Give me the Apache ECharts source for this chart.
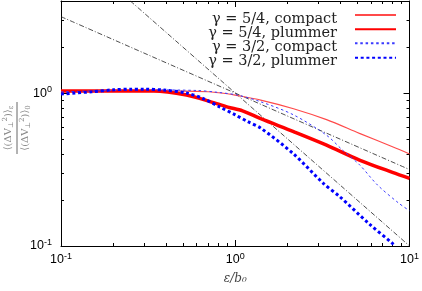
<!DOCTYPE html>
<html><head><meta charset="utf-8">
<script src="https://cdn.jsdelivr.net/npm/echarts@6/dist/echarts.min.js"></script>
<style>html,body{margin:0;padding:0;background:#fff}#c{width:422px;height:291px}</style>
</head><body><div id="c"></div>
<script>
// ---- data ----
const seriesNames = ['γ = 5/4, compact', 'γ = 5/4, plummer', 'γ = 3/2, compact', 'γ = 3/2, plummer'];
const redCompactX = [0.1, 0.2, 0.3, 0.5, 0.7, 0.9, 1.0, 1.4, 2.16, 3.34, 5.16, 7.98, 10];
const redCompactY = [1.03, 1.03, 1.03, 1.03, 1.02, 0.99, 0.97, 0.90, 0.79, 0.67, 0.545, 0.446, 0.40];
const redPlummerX = [0.1, 0.2, 0.34, 0.525, 0.717, 0.906, 1.1, 1.4, 2.16, 3.34, 5.16, 7.98, 10];
const redPlummerY = [1.03, 1.03, 1.03, 0.97, 0.88, 0.81, 0.766, 0.68, 0.56, 0.457, 0.365, 0.303, 0.277];
const blueCompactX = [0.1, 0.2, 0.3, 0.6, 0.8, 1.03, 1.4, 2.16, 3.34, 4.16, 5.16, 6.56, 8.7, 10];
const blueCompactY = [1.02, 1.04, 1.05, 1.04, 1.01, 0.97, 0.877, 0.72, 0.53, 0.42, 0.34, 0.25, 0.19, 0.17];
const bluePlummerX = [0.1, 0.15, 0.2, 0.25, 0.3, 0.39, 0.525, 0.655, 0.817, 1.0, 1.18, 1.4, 2.16, 3.2, 3.98, 5.85, 7.98, 8.3];
const bluePlummerY = [0.985, 1.02, 1.05, 1.06, 1.06, 1.046, 1.0, 0.92, 0.81, 0.72, 0.65, 0.59, 0.40, 0.257, 0.21, 0.14, 0.104, 0.1];
const guideHalfX = [0.1, 10];
const guideHalfY = [3.16, 0.316];
const guideOneX = [0.25, 10];
const guideOneY = [4, 0.1];
const xRange = [0.1, 10];
const yRange = [0.1, 4];
const xMajorTicks = [0.1, 1, 10];
const xMinorTicks = [0.2, 0.3, 0.4, 0.5, 0.6, 0.7, 0.8, 0.9, 2, 3, 4, 5, 6, 7, 8, 9];
const yMajorTicks = [0.1, 1];
const yMinorTicks = [0.2, 0.3, 0.4, 0.5, 0.6, 0.7, 0.8, 0.9, 2, 3];

const zip = (xs, ys) => xs.map((x, i) => [x, ys[i]]);
const supLabel = v => {
  const l = Math.log10(v), e = Math.round(l);
  if (Math.abs(l - e) > 1e-6) return '';
  return '{b|10}{s|' + e + '}';
};
const richLab = {
  b: {fontFamily: 'Liberation Sans', fontSize: 12.5, color: '#000'},
  s: {fontFamily: 'Liberation Sans', fontSize: 9, color: '#000', padding: [0, 0, 7, 0]}
};

function mkAxis(dim, range, pos, withLabel) {
  return {
    type: 'log', min: range[0], max: range[1], position: pos, gridIndex: 0,
    splitLine: {show: false},
    axisLine: {show: true, onZero: false, lineStyle: {color: '#000', width: 1}},
    axisTick: {show: false}, minorTick: {show: false},
    axisLabel: withLabel ? {show: true, formatter: supLabel, rich: richLab, margin: dim === 'x' ? 6 : 9} : {show: false}
  };
}
// tick-only helper axes on the log10 scale of the same range
function tickAxis(range, pos, ticks, len) {
  return {
    type: 'value', min: Math.log10(range[0]), max: Math.log10(range[1]), position: pos, gridIndex: 0,
    splitLine: {show: false},
    axisLine: {show: false, onZero: false},
    axisTick: {show: true, inside: true, length: len, customValues: ticks.map(Math.log10), lineStyle: {color: '#000', width: 1}},
    axisLabel: {show: false}
  };
}

const xBottom = mkAxis('x', xRange, 'bottom', true);
xBottom.name = 'ε/b₀';
xBottom.nameLocation = 'middle';
xBottom.nameGap = 27;
xBottom.nameTextStyle = {fontFamily: 'DejaVu Serif', fontStyle: 'italic', fontSize: 12, color: '#444'};
const xAxes = [xBottom, mkAxis('x', xRange, 'top', false),
  tickAxis(xRange, 'bottom', xMajorTicks, 6), tickAxis(xRange, 'bottom', xMinorTicks, 3),
  tickAxis(xRange, 'top', xMajorTicks, 6), tickAxis(xRange, 'top', xMinorTicks, 3)];
const yAxes = [mkAxis('y', yRange, 'left', true), mkAxis('y', yRange, 'right', false),
  tickAxis(yRange, 'left', yMajorTicks, 6), tickAxis(yRange, 'left', yMinorTicks, 3),
  tickAxis(yRange, 'right', yMajorTicks, 6), tickAxis(yRange, 'right', yMinorTicks, 3)];

const lineSeries = (name, data, color, width, type, z) => ({
  name, type: 'line', data, symbol: 'none', showSymbol: false, smooth: 0.3, z,
  xAxisIndex: 0, yAxisIndex: 0,
  lineStyle: {color, width, type, cap: 'butt'}, itemStyle: {color}, emphasis: {disabled: true},
  clip: true, animation: false
});

const series = [
  lineSeries('guide1', zip(guideHalfX, guideHalfY), '#222', 0.8, [5, 2, 1, 2], 2),
  lineSeries('guide2', zip(guideOneX, guideOneY), '#222', 0.8, [5, 2, 1, 2], 2),
  lineSeries(seriesNames[0], zip(redCompactX, redCompactY), '#ff4a4a', 1.2, 'solid', 3),
  lineSeries(seriesNames[1], zip(redPlummerX, redPlummerY), '#ff0000', 3.5, 'solid', 3),
  lineSeries(seriesNames[2], zip(blueCompactX, blueCompactY), '#3a3aff', 1, [2.5, 2.8], 3),
  lineSeries(seriesNames[3], zip(bluePlummerX, bluePlummerY), '#0000ff', 3, [3, 2.7], 4)
];

const legendTops = [11, 25.3, 39.3, 53.7];
const legends = seriesNames.map((n, i) => ({
  data: [n], right: 25, top: legendTops[i], orient: 'vertical', align: 'right', padding: 0,
  itemWidth: 41, itemHeight: 10, selectedMode: false,
  itemStyle: {opacity: 0},
  formatter: nm => '{a|' + nm + '}',
  textStyle: {rich: {a: {fontFamily: 'DejaVu Serif', fontSize: 14.5, color: '#222', padding: [8, 13, 0, 0]}}}
}));

const chart = echarts.init(document.getElementById('c'), null, {renderer: 'canvas'});
chart.setOption({
  animation: false,
  grid: {left: 61, right: 9, top: 1, bottom: 45, containLabel: false},
  xAxis: xAxes,
  yAxis: yAxes,
  legend: legends,
  series,
  graphic: [{
    type: 'group', x: 17, y: 128, rotation: Math.PI / 2,
    children: [
      {type: 'text', x: 0, y: -2, style: {
        text: '{t|⟨(ΔV}{s|⊥}{p|2}{t|)⟩}{s|ε}', align: 'center', verticalAlign: 'bottom',
        rich: {t: {fontFamily: 'DejaVu Serif', fontSize: 10, fill: '#888'},
               s: {fontFamily: 'DejaVu Serif', fontSize: 7, fill: '#888', padding: [6, 0, 0, 0]},
               p: {fontFamily: 'DejaVu Serif', fontSize: 7, fill: '#888', padding: [0, 0, 6, 0]}}}},
      {type: 'line', shape: {x1: -26, y1: 0, x2: 26, y2: 0}, style: {stroke: '#666', lineWidth: 1}},
      {type: 'text', x: 0, y: 2, style: {
        text: '{t|⟨(ΔV}{s|⊥}{p|2}{t|)⟩}{s|0}', align: 'center', verticalAlign: 'top',
        rich: {t: {fontFamily: 'DejaVu Serif', fontSize: 10, fill: '#888'},
               s: {fontFamily: 'DejaVu Serif', fontSize: 7, fill: '#888', padding: [6, 0, 0, 0]},
               p: {fontFamily: 'DejaVu Serif', fontSize: 7, fill: '#888', padding: [0, 0, 6, 0]}}}}
    ]
  }]
});
</script></body></html>
